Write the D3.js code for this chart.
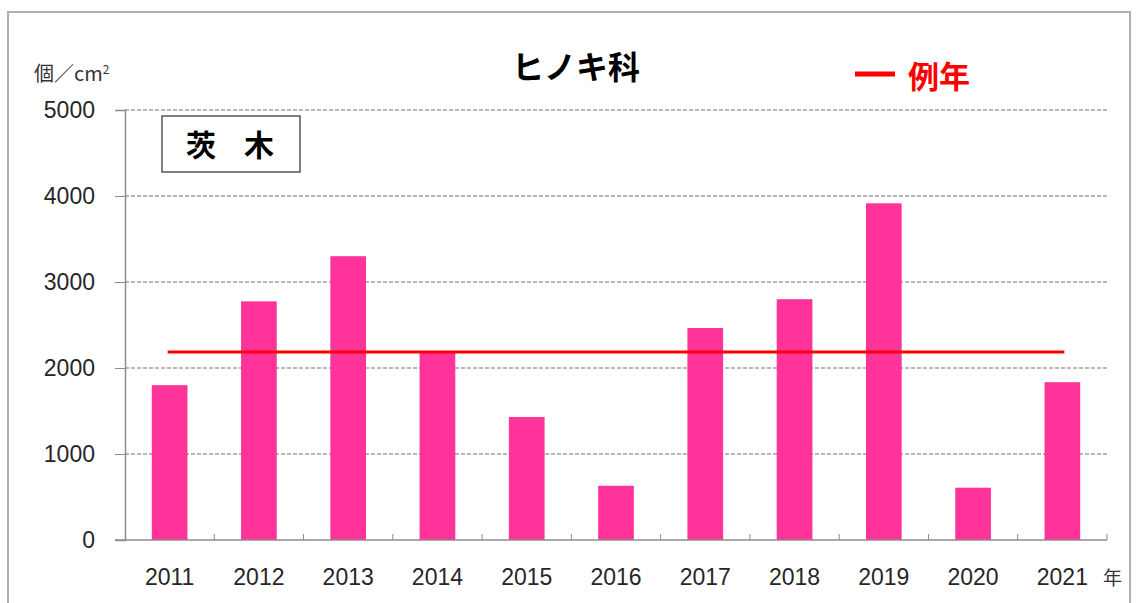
<!DOCTYPE html>
<meta charset="utf-8">
<script src="https://d3js.org/d3.v7.min.js"></script>
<style>
  body { margin: 0; background: #fff; }
  text { font-family: "Liberation Sans", Arial, sans-serif; }
  .jp { font-family: "Noto Sans CJK JP", sans-serif; }
</style>
<div id="my_dataviz"></div>
<script>
// data
var years = ["2011", "2012", "2013", "2014", "2015", "2016", "2017", "2018", "2019", "2020", "2021"];
var pollen = [1800, 2775, 3300, 2185, 1430, 630, 2465, 2800, 3915, 608, 1835];
var normalValue = 2186;
var yTicks = [0, 1000, 2000, 3000, 4000, 5000];

var W = 1136, H = 603;
var margin = {top: 110, right: 29, bottom: 63, left: 125},
    width = W - margin.left - margin.right,
    height = H - margin.top - margin.bottom;

var svg = d3.select("#my_dataviz")
  .append("svg")
    .attr("width", W)
    .attr("height", H);

// outer frame
svg.append("rect")
  .attr("x", 8).attr("y", 12)
  .attr("width", 1122).attr("height", 610)
  .attr("fill", "none")
  .attr("stroke", "#b0b0b0")
  .attr("stroke-width", 2);

var g = svg.append("g")
  .attr("transform", "translate(" + margin.left + "," + margin.top + ")");

var x = d3.scaleBand()
  .domain(years)
  .range([0, width])
  .paddingInner(0.6)
  .paddingOuter(0.3);

var y = d3.scaleLinear()
  .domain([0, 5000])
  .range([height, 0]);

// dashed grid lines
g.selectAll("grid")
  .data(yTicks.filter(function(d) { return d > 0; }))
  .enter()
  .append("line")
    .attr("x1", 0).attr("x2", width)
    .attr("y1", function(d) { return y(d); })
    .attr("y2", function(d) { return y(d); })
    .attr("stroke", "#6f6f6f")
    .attr("stroke-width", 1)
    .attr("stroke-dasharray", "4,2");

// y axis
var yAxis = g.append("g")
  .call(d3.axisLeft(y).tickValues(yTicks).tickFormat(d3.format("d")).tickSize(10).tickPadding(20));
yAxis.select(".domain").attr("stroke", "#8c8c8c").attr("stroke-width", 1.5);
yAxis.selectAll(".tick line").attr("stroke", "#8c8c8c");
yAxis.selectAll("text")
  .style("font-size", "23px")
  .attr("fill", "#262626");

// bars
g.selectAll("bars")
  .data(years)
  .enter()
  .append("rect")
    .attr("x", function(d) { return x(d); })
    .attr("y", function(d, i) { return y(pollen[i]); })
    .attr("width", x.bandwidth())
    .attr("height", function(d, i) { return height - y(pollen[i]); })
    .attr("fill", "#ff3399");

// x axis line with inward ticks between categories
g.append("line")
  .attr("x1", -10).attr("x2", width)
  .attr("y1", height).attr("y2", height)
  .attr("stroke", "#8c8c8c")
  .attr("stroke-width", 1.5);
var step = x.step();
g.selectAll("xticks")
  .data(d3.range(1, years.length + 1))
  .enter()
  .append("line")
    .attr("x1", function(d) { return d * step; })
    .attr("x2", function(d) { return d * step; })
    .attr("y1", height).attr("y2", height - 6)
    .attr("stroke", "#8c8c8c");

g.selectAll("xlabels")
  .data(years)
  .enter()
  .append("text")
    .attr("x", function(d) { return x(d) + x.bandwidth() / 2; })
    .attr("y", height + 45)
    .attr("text-anchor", "middle")
    .style("font-size", "23px")
    .attr("fill", "#262626")
    .text(function(d) { return d; });

g.append("text")
  .attr("class", "jp")
  .attr("x", width - 4)
  .attr("y", height + 45)
  .style("font-size", "19px")
  .attr("fill", "#333")
  .text("年");

// normal-year line
var first = years[0], last = years[years.length - 1];
g.append("line")
  .attr("x1", x(first) + x.bandwidth() / 2 - 2)
  .attr("x2", x(last) + x.bandwidth() / 2 + 2)
  .attr("y1", y(normalValue))
  .attr("y2", y(normalValue))
  .attr("stroke", "#ff0000")
  .attr("stroke-width", 3);

// title
svg.append("text")
  .attr("class", "jp")
  .attr("x", 576).attr("y", 79)
  .attr("text-anchor", "middle")
  .style("font-size", "32px")
  .style("font-weight", "bold")
  .attr("fill", "#000")
  .text("ヒノキ科");

// legend
svg.append("line")
  .attr("x1", 855).attr("x2", 895)
  .attr("y1", 74).attr("y2", 74)
  .attr("stroke", "#ff0000")
  .attr("stroke-width", 5);
svg.append("text")
  .attr("class", "jp")
  .attr("x", 908).attr("y", 88)
  .style("font-size", "31px")
  .style("font-weight", "bold")
  .attr("fill", "#ff0000")
  .text("例年");

// unit label
var unit = svg.append("text")
  .attr("class", "jp")
  .attr("x", 34).attr("y", 81)
  .style("font-size", "20px")
  .attr("fill", "#333");
unit.append("tspan").text("個／cm");
unit.append("tspan")
  .attr("dy", -7)
  .style("font-size", "12px")
  .text("2");

// station box
svg.append("rect")
  .attr("x", 162).attr("y", 116)
  .attr("width", 138).attr("height", 56)
  .attr("fill", "#fff")
  .attr("stroke", "#555")
  .attr("stroke-width", 1.5);
svg.append("text")
  .attr("class", "jp")
  .attr("x", 201).attr("y", 156)
  .attr("text-anchor", "middle")
  .style("font-size", "30px")
  .style("font-weight", "bold")
  .attr("fill", "#000")
  .text("茨");
svg.append("text")
  .attr("class", "jp")
  .attr("x", 259).attr("y", 156)
  .attr("text-anchor", "middle")
  .style("font-size", "30px")
  .style("font-weight", "bold")
  .attr("fill", "#000")
  .text("木");
</script>
